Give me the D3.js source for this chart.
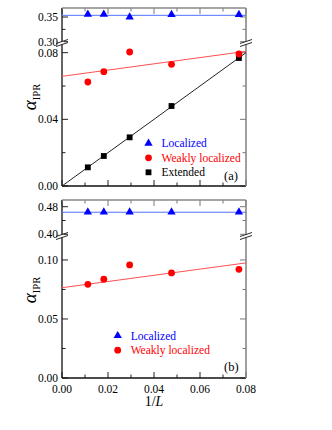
<!DOCTYPE html>
<html>
<head>
<meta charset="utf-8">
<script src="https://cdn.jsdelivr.net/npm/d3@7"></script>
<style>
  body { margin: 0; background: #fff; }
  svg { display: block; }
  text { font-family: 'Liberation Serif', 'Times New Roman', 'DejaVu Serif', serif; }
</style>
</head>
<body>
<svg width="332" height="430"></svg>
<script>
// the data (1/L for L = 89, 55, 34, 21, 13)
var invL = [1 / 89, 1 / 55, 1 / 34, 1 / 21, 1 / 13];
var locA = [0.3555, 0.3555, 0.3500, 0.3550, 0.3550];
var weakA = [0.0624, 0.0686, 0.0804, 0.0730, 0.0792];
var extA = [0.0112, 0.0180, 0.0292, 0.0480, 0.0768];
var locB = [0.4647, 0.4647, 0.4647, 0.4647, 0.4647];
var weakB = [0.0794, 0.0837, 0.0958, 0.0890, 0.0921];
// fitted lines, at x = 0 and x = 0.08
var fitX = [0, 0.08];
var fitLocA = [0.3534, 0.3534];
var fitWeakA = [0.0658, 0.0808];
var fitExtA = [0, 0.08];
var fitLocB = [0.4640, 0.4640];
var fitWeakB = [0.0765, 0.0975];
var xTicks = [0, 0.02, 0.04, 0.06, 0.08];
var xMinor = [0.01, 0.03, 0.05, 0.07];

var svg = d3.select("svg");
var x = d3.scaleLinear().domain([0, 0.08]).range([62, 246]);
var left = 62, right = 246;

var blue = "#0000ff", red = "#ff0000";

function drawPanel(p) {
    var g = svg.append("g");
    var yUp = d3.scaleLinear().domain(p.upDomain).range(p.upRange);
    var yLo = d3.scaleLinear().domain(p.loDomain).range(p.loRange);
    var top = p.upRange[1], bottom = p.loRange[0], brk = p.loRange[1];

    // y ticks, left and right, pointing inward
    function yTicks(scale, majors, minors, labels) {
        majors.forEach(function (v, i) {
            var yy = scale(v);
            g.append("line").attr("x1", left).attr("x2", left + 6).attr("y1", yy).attr("y2", yy).attr("stroke", "#222");
            g.append("line").attr("x1", right).attr("x2", right - 6).attr("y1", yy).attr("y2", yy).attr("stroke", "#777");
            if (labels) g.append("text").attr("x", left - 4).attr("y", yy + 4)
                .attr("text-anchor", "end").attr("font-size", 11.5).text(labels[i]);
        });
        minors.forEach(function (v) {
            var yy = scale(v);
            g.append("line").attr("x1", left).attr("x2", left + 3.5).attr("y1", yy).attr("y2", yy).attr("stroke", "#222");
            g.append("line").attr("x1", right).attr("x2", right - 3.5).attr("y1", yy).attr("y2", yy).attr("stroke", "#777");
        });
    }
    yTicks(yUp, p.upTicks, p.upMinor, p.upLabels);
    yTicks(yLo, p.loTicks, p.loMinor, p.loLabels);

    // x ticks, bottom and top
    xTicks.forEach(function (v) {
        g.append("line").attr("x1", x(v)).attr("x2", x(v)).attr("y1", bottom).attr("y2", bottom - 6).attr("stroke", "#222");
        g.append("line").attr("x1", x(v)).attr("x2", x(v)).attr("y1", top).attr("y2", top + 6).attr("stroke", "#777");
    });
    xMinor.forEach(function (v) {
        g.append("line").attr("x1", x(v)).attr("x2", x(v)).attr("y1", bottom).attr("y2", bottom - 3.5).attr("stroke", "#222");
        g.append("line").attr("x1", x(v)).attr("x2", x(v)).attr("y1", top).attr("y2", top + 3.5).attr("stroke", "#777");
    });
    if (p.xLabels) {
        xTicks.forEach(function (v) {
            g.append("text").attr("x", x(v)).attr("y", bottom + 15).attr("text-anchor", "middle")
                .attr("font-size", 11.5).text(v.toFixed(2));
        });
    }

    // frame
    g.append("line").attr("x1", left).attr("x2", left).attr("y1", top).attr("y2", bottom).attr("stroke", "#111").attr("stroke-width", 1.3);
    g.append("line").attr("x1", left).attr("x2", right).attr("y1", bottom).attr("y2", bottom).attr("stroke", "#111").attr("stroke-width", 1.3);
    g.append("line").attr("x1", left).attr("x2", right).attr("y1", top).attr("y2", top).attr("stroke", "#888").attr("stroke-width", 1.6);
    g.append("line").attr("x1", right).attr("x2", right).attr("y1", top).attr("y2", bottom).attr("stroke", "#888").attr("stroke-width", 1.6);

    // axis breaks
    [left, right].forEach(function (bx) {
        g.append("rect").attr("x", bx - 2).attr("y", brk - 1.5).attr("width", 4).attr("height", 3).attr("fill", "#fff");
        [-1.5, 1.5].forEach(function (o) {
            g.append("line").attr("x1", bx - 6).attr("x2", bx + 6).attr("y1", brk + o + 2).attr("y2", brk + o - 2)
                .attr("stroke", "#111").attr("stroke-width", 0.9);
        });
    });

    // fit lines
    p.fits.forEach(function (f) {
        var sc = f.upper ? yUp : yLo;
        g.append("path")
            .datum(fitX.map(function (v, i) { return [v, f.vals[i]]; }))
            .attr("d", d3.line().x(function (d) { return x(d[0]); }).y(function (d) { return sc(d[1]); }))
            .attr("fill", "none").attr("stroke", f.color).attr("stroke-width", 1);
    });

    // markers
    p.series.forEach(function (s) {
        var sc = s.upper ? yUp : yLo;
        g.append("g").selectAll("path")
            .data(s.vals)
            .enter().append("path")
            .attr("d", d3.symbol().type(s.symbol).size(s.size))
            .attr("transform", function (d, i) { return "translate(" + x(invL[i]) + "," + sc(d) + ")"; })
            .attr("fill", s.color);
    });

    // legend
    p.series.slice().reverse().forEach(function (s, i) {
        var ly = p.legY + i * 14.5;
        g.append("path").attr("d", d3.symbol().type(s.symbol).size(s.size))
            .attr("transform", "translate(" + p.legX + "," + ly + ")").attr("fill", s.color);
    });
    p.series.slice().reverse().forEach(function (s, i) {
        var ly = p.legY + i * 14.5;
        g.append("text").attr("x", p.legX + 13).attr("y", ly + 4).attr("font-size", 11.5)
            .attr("fill", s.textColor).text(s.name);
    });
    g.append("text").attr("x", p.tagX).attr("y", p.tagY).attr("font-size", 12.5).text(p.tag);

    // y label
    var yl = g.append("text").attr("transform", "translate(36," + p.labelY + ") rotate(-90)")
        .attr("text-anchor", "middle");
    yl.append("tspan").attr("font-style", "italic").attr("font-size", 19).text("α");
    yl.append("tspan").attr("font-size", 10.5).attr("dy", 4).text("IPR");
}

drawPanel({
    upDomain: [0.2974, 0.3682], upRange: [43, 8],
    loDomain: [0, 0.0858], loRange: [186, 43],
    upTicks: [0.30, 0.35], upMinor: [0.325], upLabels: ["0.30", "0.35"],
    loTicks: [0, 0.04, 0.08], loMinor: [0.02, 0.06], loLabels: ["0.00", "0.04", "0.08"],
    xLabels: false,
    fits: [
        { vals: fitLocA, upper: true, color: "#5070ff" },
        { vals: fitWeakA, upper: false, color: "#ff5050" },
        { vals: fitExtA, upper: false, color: "#222" }
    ],
    series: [
        { name: "Extended", vals: extA, upper: false, symbol: d3.symbolSquare, size: 34, color: "#000", textColor: "#000" },
        { name: "Weakly localized", vals: weakA, upper: false, symbol: d3.symbolCircle, size: 36, color: red, textColor: red },
        { name: "Localized", vals: locA, upper: true, symbol: d3.symbolTriangle, size: 30, color: blue, textColor: blue }
    ],
    legX: 148.5, legY: 143.3,
    tag: "(a)", tagX: 224, tagY: 180,
    labelY: 97
});

drawPanel({
    upDomain: [0.3951, 0.4994], upRange: [236, 200],
    loDomain: [0, 0.1203], loRange: [378, 236],
    upTicks: [0.40, 0.48], upMinor: [0.44], upLabels: ["0.40", "0.48"],
    loTicks: [0, 0.05, 0.10], loMinor: [0.025, 0.075], loLabels: ["0.00", "0.05", "0.10"],
    xLabels: true,
    fits: [
        { vals: fitLocB, upper: true, color: "#5070ff" },
        { vals: fitWeakB, upper: false, color: "#ff5050" }
    ],
    series: [
        { name: "Weakly localized", vals: weakB, upper: false, symbol: d3.symbolCircle, size: 36, color: red, textColor: red },
        { name: "Localized", vals: locB, upper: true, symbol: d3.symbolTriangle, size: 30, color: blue, textColor: blue }
    ],
    legX: 117.7, legY: 335.7,
    tag: "(b)", tagX: 224, tagY: 371,
    labelY: 290
});

// x axis title
var xt = svg.append("text").attr("x", 154).attr("y", 406).attr("text-anchor", "middle").attr("font-size", 14);
xt.append("tspan").text("1/");
xt.append("tspan").attr("font-style", "italic").text("L");
</script>
</body>
</html>
